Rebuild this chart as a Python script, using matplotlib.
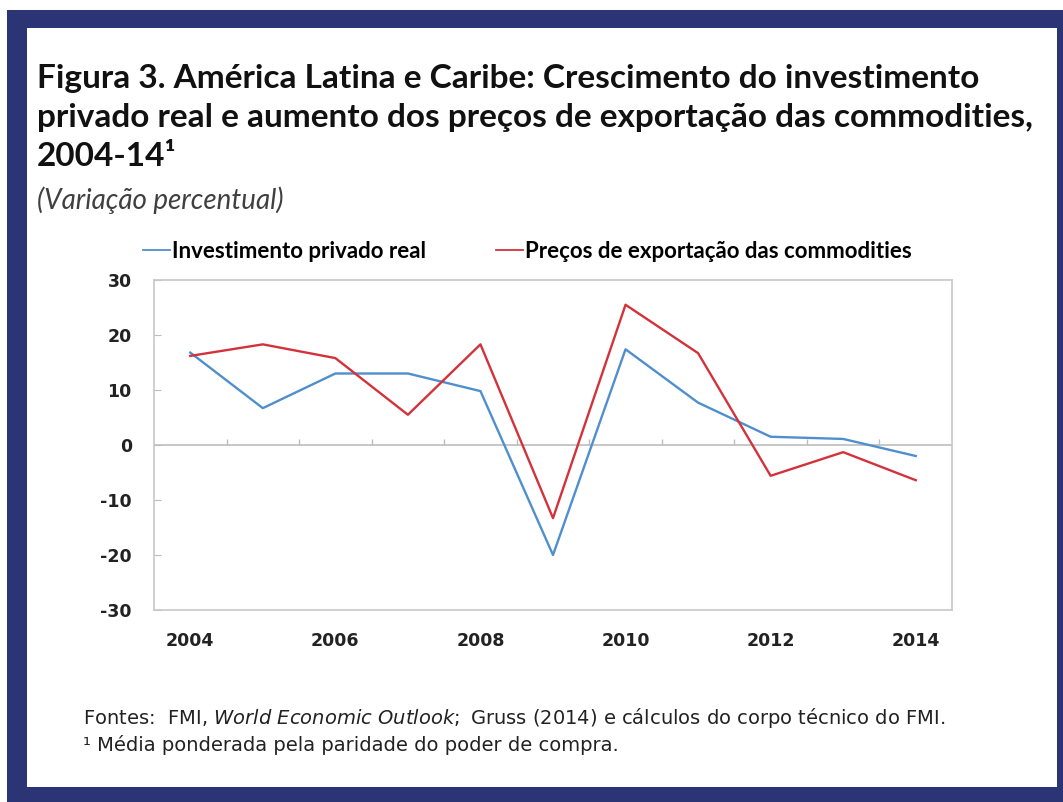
import matplotlib
matplotlib.use('Agg')
import matplotlib.pyplot as plt
from matplotlib.patches import Rectangle

# Data (percent change)
years = ['2004', '2005', '2006', '2007', '2008', '2009', '2010', '2011', '2012', '2013', '2014']
investimento = [16.8, 6.7, 13.0, 13.0, 9.8, -20.0, 17.4, 7.7, 1.5, 1.1, -2.0]
precos = [16.2, 18.3, 15.8, 5.5, 18.3, -13.3, 25.5, 16.7, -5.6, -1.3, -6.4]
yticks = [-30, -20, -10, 0, 10, 20, 30]

W, H = 1063, 802
fig = plt.figure(figsize=(W / 100, H / 100), dpi=100)
fig.patch.set_facecolor('white')

# navy frame around white panel
navy = '#2B3474'
fig.patches.append(Rectangle((7 / W, 0), 1 - 7 / W, 1 - 10 / H, transform=fig.transFigure,
                             facecolor=navy, edgecolor='none', zorder=-2))
fig.patches.append(Rectangle((27 / W, 15 / H), (1057 - 27) / W, (787 - 28) / H,
                             transform=fig.transFigure, facecolor='white', edgecolor='none', zorder=-1))

title_font = 'Lato'
title_lines = ['Figura 3. América Latina e Caribe: Crescimento do investimento',
               'privado real e aumento dos preços de exportação das commodities,',
               '2004-14¹']
for i, line in enumerate(title_lines):
    fig.text(37 / W, 1 - (88 + 39 * i) / H, line, fontsize=24, fontweight='bold',
             family=title_font, color='#111111', va='baseline')
fig.text(37 / W, 1 - 200 / H, '(Variação percentual)', fontsize=20, style='italic',
         family=title_font, color='#404040', va='center')

ax = fig.add_axes([154 / W, (H - 610) / H, (952 - 154) / W, (610 - 280) / H])
x = list(range(len(years)))
ax.plot(x, investimento, color='#4F8FCD', lw=1.7, label='Investimento privado real', zorder=3)
ax.plot(x, precos, color='#D3323B', lw=1.7, label='Preços de exportação das commodities', zorder=3)

ax.axhline(0, color='#BDBDBD', lw=1.2, zorder=1)
ax.vlines([i + 0.5 for i in range(len(years) - 1)], 0, 1.1, color='#BDBDBD', lw=1, zorder=1)

ax.set_xlim(-0.5, len(years) - 0.5)
ax.set_ylim(-30, 30)
ax.set_yticks(yticks)
ax.set_yticklabels([str(v) for v in yticks], fontsize=12.5, fontweight='bold', color='#222222')
ax.set_xticks(x[::2])
ax.set_xticklabels(years[::2], fontsize=12.5, fontweight='bold', color='#222222')
ax.tick_params(axis='x', length=0, pad=16)
ax.tick_params(axis='y', direction='in', length=5, color='#BDBDBD', pad=16)
for s in ax.spines.values():
    s.set_color('#C8C8C8')
    s.set_linewidth(1.2)

leg = ax.legend(loc='center left', bbox_to_anchor=(143 / W, 1 - 251 / H),
                bbox_transform=fig.transFigure, ncol=2, frameon=False,
                handlelength=1.2, handletextpad=0.1, columnspacing=3.15,
                borderaxespad=0, borderpad=0,
                prop={'family': title_font, 'weight': 'bold', 'size': 16})
for line in leg.get_lines():
    line.set_linewidth(1.3)

foot_font = ['Liberation Sans Narrow', 'DejaVu Sans']
fig.text(83 / W, 1 - 718 / H, 'Fontes:  FMI, $\\it{World\\ Economic\\ Outlook;}$ Gruss (2014) e cálculos do corpo técnico do FMI.',
         fontsize=14, family=foot_font, color='#222222', va='center')
fig.text(83 / W, 1 - 745 / H, '¹ Média ponderada pela paridade do poder de compra.',
         fontsize=14, family=foot_font, color='#222222', va='center')

fig.savefig('out.png', dpi=100, facecolor='white')
